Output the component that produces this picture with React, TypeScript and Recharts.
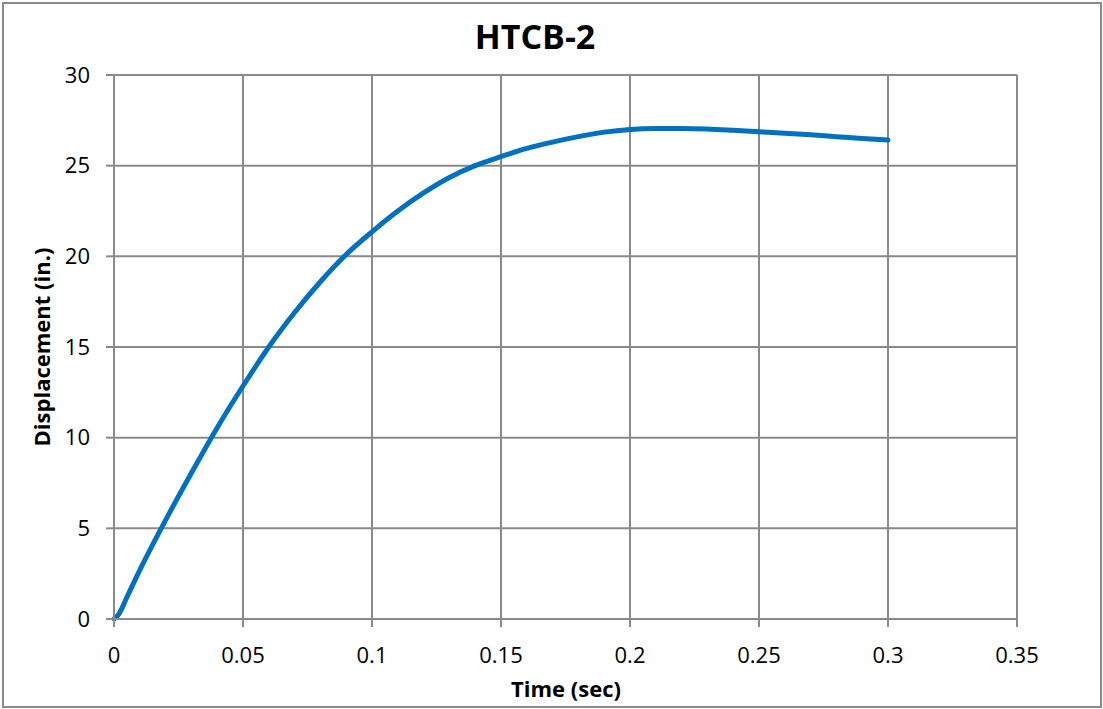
import React from "react";
import { LineChart, Line, XAxis, YAxis, CartesianGrid } from "recharts";

// time (sec) and displacement (in.)
const timeSec = [
  0, 0.002, 0.005, 0.01, 0.02, 0.03, 0.04, 0.05, 0.06, 0.07, 0.08, 0.09, 0.1, 0.11, 0.12, 0.13, 0.14, 0.15,
  0.16, 0.17, 0.18, 0.19, 0.2, 0.21, 0.22, 0.23, 0.24, 0.25, 0.26, 0.27, 0.28, 0.29, 0.3,
];
const displacement = [
  0, 0.3, 1.2, 2.7, 5.45, 8.05, 10.55, 12.85, 15.0, 16.9, 18.6, 20.1, 21.35, 22.5, 23.5, 24.35, 25.0, 25.5,
  25.95, 26.3, 26.6, 26.85, 27.0, 27.05, 27.05, 27.02, 26.95, 26.87, 26.79, 26.7, 26.6, 26.5, 26.41,
];
const xTicks = [0, 0.05, 0.1, 0.15, 0.2, 0.25, 0.3, 0.35];
const yTicks = [0, 5, 10, 15, 20, 25, 30];

const data = timeSec.map((t, i) => ({ t, d: displacement[i] }));

const FONT = "'Open Sans', 'Noto Sans', sans-serif";
const GRID = "#8a8a8a";

export default function App() {
  return (
    <div style={{ position: "relative", width: 1103, height: 709, fontFamily: FONT, background: "#fff" }}>
      <style>{`body{margin:0}`}</style>
      <div
        style={{
          position: "absolute",
          left: 2,
          top: 2,
          width: 1100,
          height: 706,
          border: `2px solid ${GRID}`,
          boxSizing: "border-box",
        }}
      />
      <div
        style={{
          position: "absolute",
          left: 0,
          width: 1070,
          top: 13,
          textAlign: "center",
          fontSize: 34,
          lineHeight: "normal",
          fontWeight: 700,
          color: "#000",
        }}
      >
        HTCB-2
      </div>
      <div
        style={{
          position: "absolute",
          left: 416,
          width: 300,
          top: 673,
          textAlign: "center",
          fontSize: 22,
          lineHeight: "normal",
          fontWeight: 700,
        }}
      >
        Time (sec)
      </div>
      <div
        style={{
          position: "absolute",
          left: 41 - 150,
          top: 347 - 15,
          width: 300,
          height: 30,
          lineHeight: "30px",
          textAlign: "center",
          fontSize: 22,
          fontWeight: 700,
          transform: "rotate(-90deg)",
        }}
      >
        Displacement (in.)
      </div>
      <div style={{ position: "absolute", left: 0, top: 0 }}>
        <LineChart width={1103} height={709} data={data} margin={{ top: 75, right: 86, bottom: 30, left: 54 }}>
          <CartesianGrid stroke={GRID} strokeWidth={2} />
          <XAxis
            dataKey="t"
            type="number"
            domain={[0, 0.35]}
            ticks={xTicks}
            interval={0}
            height={60}
            tickSize={8}
            tickMargin={20}
            stroke={GRID}
            strokeWidth={2}
            tick={{ fill: "#000", fontSize: 22, fontFamily: FONT }}
          />
          <YAxis
            type="number"
            domain={[0, 30]}
            ticks={yTicks}
            interval={0}
            width={60}
            tickSize={8}
            tickMargin={16}
            stroke={GRID}
            strokeWidth={2}
            tick={{ fill: "#000", fontSize: 22, fontFamily: FONT }}
          />
          <Line
            type="monotone"
            dataKey="d"
            stroke="#0070C0"
            strokeWidth={5}
            strokeLinecap="round"
            dot={false}
            isAnimationActive={false}
          />
        </LineChart>
      </div>
    </div>
  );
}
